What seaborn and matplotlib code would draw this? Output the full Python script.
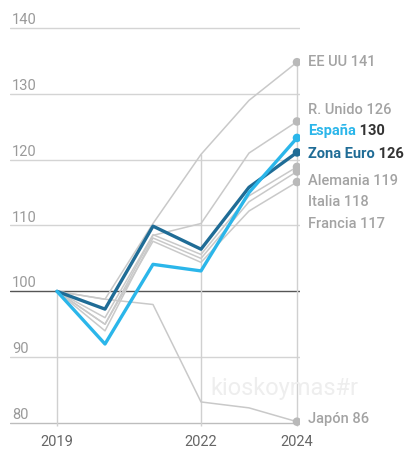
import matplotlib
matplotlib.use("Agg")
import matplotlib.pyplot as plt
import matplotlib.transforms as mtransforms
import numpy as np
import pandas as pd
import seaborn as sns

# data (index 2019 = 100)
years = [2019, 2020, 2021, 2022, 2023, 2024]
eeuu = [100, 98.8, 110.3, 120.8, 129.0, 134.8]
runido = [100, 95.0, 108.5, 110.3, 121.0, 125.8]
alemania = [100, 96.0, 108.6, 105.6, 114.5, 118.9]
italia = [100, 94.0, 108.1, 105.0, 113.6, 118.2]
francia = [100, 95.0, 107.6, 104.4, 112.2, 116.6]
japon = [100, 98.8, 98.0, 83.2, 82.3, 80.2]
zona_euro = [100, 97.3, 109.9, 106.4, 115.8, 121.1]
espana = [100, 92.0, 104.1, 103.1, 115.0, 123.3]

names = ["EE UU", "R. Unido", "Alemania", "Italia", "Francia", "Japón", "Zona Euro", "España"]
label_values = ["141", "126", "119", "118", "117", "86", "126", "130"]
y_ticks = [80, 90, 100, 110, 120, 130, 140]
x_labels = [2019, 2022, 2024]

series = [eeuu, runido, alemania, italia, francia, japon, zona_euro, espana]
df = pd.DataFrame({
    "year": np.tile(years, len(names)),
    "value": np.concatenate(series),
    "pais": np.repeat(names, len(years)),
})

GREY = "#c9c9c9"
DOT_GREY = "#b9b9b9"
TXT_GREY = "#a3a3a3"
DARK = "#1f6c96"
LIGHT = "#2bb6ea"
palette = {n: GREY for n in names}
palette["Zona Euro"] = DARK
palette["España"] = LIGHT
sizes = {n: 1.1 for n in names}
sizes["Zona Euro"] = 2.4
sizes["España"] = 2.4

sns.set_style("white")
plt.rcParams["font.family"] = ["Roboto", "DejaVu Sans"]

fig = plt.figure(figsize=(4.04, 4.5), dpi=100)
W, H = 404, 450
ymin, ymax = 79, 142
xmin, xmax = 2019 - 47 / 48, 2024 + 3 / 48
top_px, bot_px = 14.8, 429.6
ax = fig.add_axes([10 / W, (H - bot_px) / H, 290 / W, (bot_px - top_px) / H])
ax.set_xlim(xmin, xmax)
ax.set_ylim(ymin, ymax)

# horizontal grid
for v in y_ticks:
    col = "#555555" if v == 100 else ("#bdbdbd" if v == 80 else "#d4d4d4")
    ax.axhline(v, color=col, lw=1.0, zorder=1)
    ax.text(0.007, v + 0.6, str(v), transform=mtransforms.blended_transform_factory(ax.transAxes, ax.transData),
            ha="left", va="baseline", fontsize=10.5, color="#9a9a9a")

# vertical lines from the top value down to the axis
for yr in x_labels:
    top = df.loc[df["year"] == yr, "value"].max()
    ax.vlines(yr, 79.6, top, color="#d0d0d0", lw=1.0, zorder=1)

sns.lineplot(data=df, x="year", y="value", hue="pais", hue_order=names,
             palette=palette, size="pais", sizes=sizes, size_order=names,
             legend=False, ax=ax, zorder=3)

last = df[df["year"] == years[-1]]
sns.scatterplot(data=last, x="year", y="value", hue="pais", hue_order=names,
                palette={**palette, **{n: DOT_GREY for n in names[:6]}},
                s=38, edgecolor="none", legend=False, ax=ax, zorder=4)

# end labels
label_pos = {"EE UU": 134.8, "R. Unido": 127.6, "España": 124.4, "Zona Euro": 120.8,
             "Alemania": 116.7, "Italia": 113.5, "Francia": 110.3, "Japón": 80.6}
for n, val in zip(names, label_values):
    if n in ("España", "Zona Euro"):
        col = LIGHT if n == "España" else DARK
        t = ax.annotate(n, xy=(2024, label_pos[n]), xytext=(8, 0), textcoords="offset points",
                        va="center", ha="left", fontsize=10.5, fontweight="bold", color=col,
                        annotation_clip=False)
        ax.annotate(" " + val, xy=(1, 0), xycoords=t, va="bottom", ha="left",
                    fontsize=10.5, fontweight="bold", color="#333333", annotation_clip=False)
    else:
        ax.annotate(f"{n} {val}", xy=(2024, label_pos[n]), xytext=(8, 0), textcoords="offset points",
                    va="center", ha="left", fontsize=10.5, fontweight="medium", color=TXT_GREY,
                    annotation_clip=False)

ax.set_xticks(x_labels)
ax.set_xticklabels([str(x) for x in x_labels])
ax.set_yticks([])
ax.tick_params(axis="x", length=0, pad=4, labelsize=10.5, labelcolor="#666666")
ax.set_xlabel("")
ax.set_ylabel("")
for s in ax.spines.values():
    s.set_visible(False)

fig.text(210 / W, (H - 395) / H, "kioskoymas#r", fontsize=17, color="#eeeeee", ha="left", va="baseline", zorder=0)

fig.savefig("out.png", dpi=100, facecolor="white")
